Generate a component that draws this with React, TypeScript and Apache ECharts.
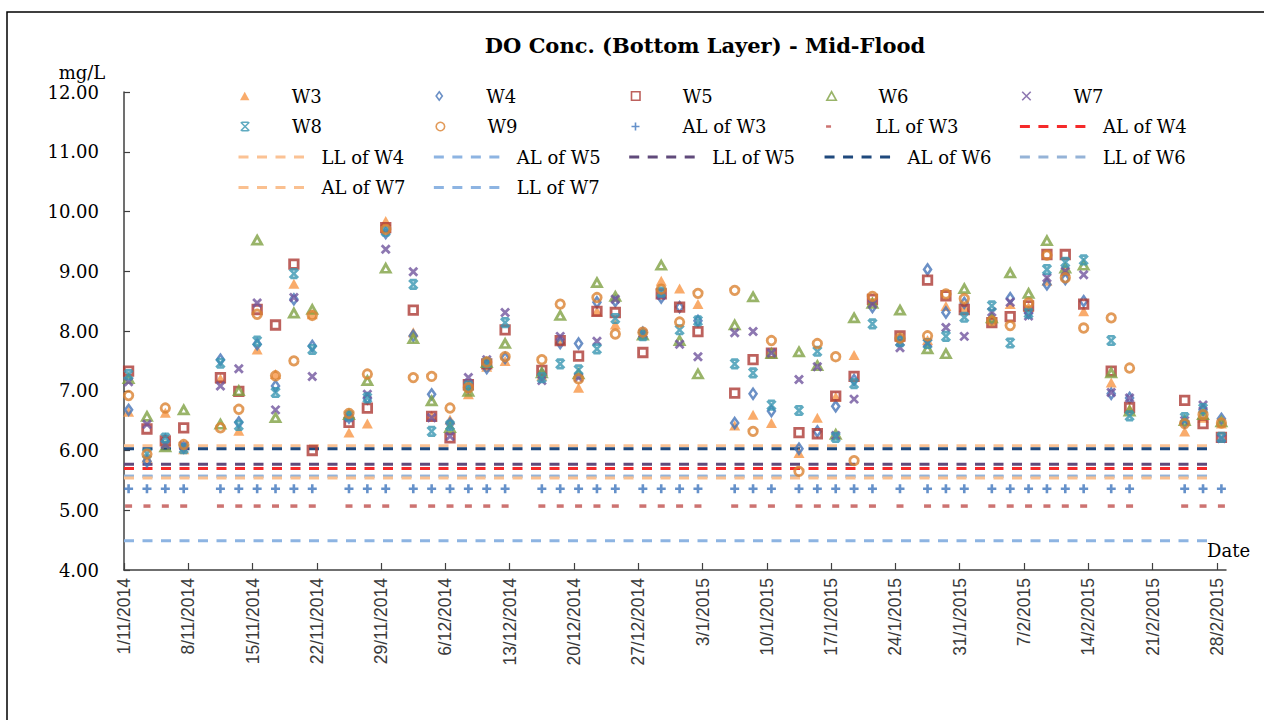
import React, { useEffect, useRef } from 'react';
import * as echarts from 'echarts';

// Sampling days counted from 1/11/2014
const sampleDays = [0, 2, 4, 6, 10, 12, 14, 16, 18, 20, 24, 26, 28, 31, 33, 35, 37, 39, 41, 45, 47, 49, 51, 53, 56, 58, 60, 62, 66, 68, 70, 73, 75, 77, 79, 81, 84, 87, 89, 91, 94, 96, 98, 100, 102, 104, 107, 109, 115, 117, 119];

const w3 = [6.65, 5.88, 6.63, 6.02, 7.2, 6.33, 7.69, 7.28, 8.79, 8.28, 6.3, 6.45, 9.84, 7.98, 6.58, 6.52, 6.94, 7.4, 7.5, 7.25, 7.85, 7.05, 8.33, 8.11, 7.95, 8.84, 8.71, 8.45, 6.42, 6.6, 6.46, 5.96, 6.55, 6.9, 7.6, 8.5, 7.9, 7.85, 8.42, 8.4, 8.2, 8.45, 8.4, 8.84, 9.0, 8.33, 7.14, 6.7, 6.32, 6.55, 6.45];
const w4 = [6.68, 5.82, 6.18, 6.05, 7.52, 6.47, 7.78, 7.08, 8.53, 7.75, 6.55, 6.87, 9.64, 7.92, 6.94, 6.45, 7.05, 7.38, 7.55, 7.28, 7.8, 7.79, 8.48, 8.5, 7.97, 8.56, 8.4, 8.17, 6.46, 6.95, 6.66, 6.03, 6.32, 6.74, 7.18, 8.4, 7.85, 9.03, 8.31, 8.47, 8.2, 8.55, 8.3, 8.78, 8.87, 8.5, 6.95, 6.88, 6.47, 6.68, 6.53];
const w5 = [7.33, 6.36, 6.16, 6.38, 7.22, 6.99, 8.36, 8.1, 9.12, 6.0, 6.47, 6.71, 9.73, 8.35, 6.57, 6.21, 7.1, 7.45, 8.02, 7.34, 7.84, 7.58, 8.33, 8.31, 7.64, 8.62, 8.4, 7.99, 6.96, 7.52, 7.63, 6.3, 6.28, 6.91, 7.24, 8.53, 7.92, 8.85, 8.59, 8.36, 8.14, 8.24, 8.42, 9.28, 9.28, 8.45, 7.33, 6.72, 6.84, 6.45, 6.22];
const w6 = [7.2, 6.57, 6.06, 6.68, 6.44, 7.0, 9.52, 6.55, 8.3, 8.36, 6.6, 7.17, 9.05, 7.87, 6.83, 6.38, 6.99, 7.47, 7.79, 7.3, 8.26, 7.28, 8.81, 8.58, 7.93, 9.1, 7.84, 7.28, 8.1, 8.57, 7.62, 7.65, 7.42, 6.27, 8.22, 8.46, 8.35, 7.7, 7.62, 8.71, 8.22, 8.97, 8.63, 9.51, 9.05, 9.1, 7.3, 6.66, 6.5, 6.6, 6.48];
const w7 = [7.15, 6.44, 6.1, 6.08, 7.08, 7.37, 8.47, 6.68, 8.56, 7.24, 6.55, 6.94, 9.37, 8.99, 6.55, 6.24, 7.22, 7.52, 8.31, 7.17, 7.91, 7.22, 7.83, 8.53, 7.96, 8.6, 7.78, 7.57, 7.97, 7.99, 7.63, 7.19, 7.4, 6.25, 6.86, 8.45, 7.72, 7.8, 8.06, 7.91, 8.32, 8.48, 8.25, 8.89, 9.0, 8.94, 6.97, 6.88, 6.5, 6.76, 6.2];
const w8 = [7.27, 5.95, 6.21, 6.03, 7.46, 6.42, 7.83, 6.97, 8.96, 7.69, 6.58, 6.88, 9.67, 8.78, 6.32, 6.42, 7.08, 7.47, 8.14, 7.22, 7.45, 7.35, 7.7, 8.21, 7.92, 8.65, 8.02, 8.17, 7.45, 7.3, 6.76, 6.67, 7.66, 6.22, 7.12, 8.12, 7.82, 7.79, 7.91, 8.23, 8.42, 7.8, 8.3, 9.03, 9.15, 9.19, 7.84, 6.58, 6.55, 6.7, 6.22];
const w9 = [6.92, 5.94, 6.71, 6.1, 6.38, 6.69, 8.28, 7.25, 7.5, 8.26, 6.62, 7.28, 9.7, 7.22, 7.24, 6.71, 7.05, 7.48, 7.57, 7.52, 8.45, 7.2, 8.56, 7.95, 7.98, 8.7, 8.15, 8.63, 8.68, 6.32, 7.84, 5.65, 7.79, 7.57, 5.83, 8.58, 7.88, 7.92, 8.62, 8.54, 8.17, 8.09, 8.47, 9.27, 8.89, 8.05, 8.22, 7.38, 6.45, 6.6, 6.46];

// Action / limit levels (mg/L)
const alW3 = 5.36;
const llW3 = 5.07;
const alW4 = 5.7;
const llW4 = 6.08;
const alW5 = 5.57;
const llW5 = 5.77;
const alW6 = 6.03;
const llW6 = 5.57;
const alW7 = 5.54;
const llW7 = 4.49;
const limitSpan = [0, 118.5];

const xTickDays = [0, 7, 14, 21, 28, 35, 42, 49, 56, 63, 70, 77, 84, 91, 98, 105, 112, 119];
const yMin = 4;
const yMax = 12;

const SERIF = 'DejaVu Serif';

const SYM = {
  tri: 'path://M5,0L10,9L0,9Z',
  diamond: 'path://M4,0L8,5.5L4,11L0,5.5Z',
  square: 'path://M0,0H10V10H0Z',
  cross: 'path://M0,0L10,10M10,0L0,10',
  star: 'path://M1,0H9M1,10H9M0,0L10,10M10,0L0,10',
  plus: 'path://M5,0V10M0,5H10',
  dash: 'path://M0,0H6V3H0Z',
};

const fmtDate = (v: number) => {
  const d = new Date(2014, 10, 1 + Math.round(v));
  return `${d.getDate()}/${d.getMonth() + 1}/${d.getFullYear()}`;
};

const pts = (vals: number[]) => sampleDays.map((d, i) => [d + 0.5, vals[i]]);
const flat = (v: number) => sampleDays.map((d) => [d + 0.5, v]);
const lineData = (v: number) => limitSpan.map((d) => [d, v]);

export default function App() {
  const ref = useRef<HTMLDivElement>(null);
  useEffect(() => {
    if (!ref.current) return;
    const chart = echarts.init(ref.current, undefined, { renderer: 'svg' });

    const hollow = (c: string, w = 2.8) => ({ color: 'transparent', borderColor: c, borderWidth: w });

    const scatter = [
      { name: 'W3', data: pts(w3), symbol: SYM.tri, symbolSize: [11, 10], itemStyle: { color: '#F79646', borderWidth: 0 } },
      { name: 'W4', data: pts(w4), symbol: SYM.diamond, symbolSize: [7, 10], itemStyle: hollow('#4674B8', 2.6) },
      { name: 'W5', data: pts(w5), symbol: SYM.square, symbolSize: [8.5, 8.5], itemStyle: hollow('#AD3935') },
      { name: 'W6', data: pts(w6), symbol: SYM.tri, symbolSize: [9, 8], itemStyle: hollow('#7FA143') },
      { name: 'W7', data: pts(w7), symbol: SYM.cross, symbolSize: [8, 8], itemStyle: hollow('#71559D') },
      { name: 'W8', data: pts(w8), symbol: SYM.star, symbolSize: [8.5, 8.5], itemStyle: hollow('#3896B1', 2.6) },
      { name: 'W9', data: pts(w9), symbol: 'circle', symbolSize: 8.5, itemStyle: hollow('#DB8231') },
      { name: 'AL of W3', data: flat(alW3), symbol: SYM.plus, symbolSize: [9, 9], itemStyle: hollow('#3F75BD', 2.6) },
      { name: 'LL of W3', data: flat(llW3), symbol: SYM.dash, symbolSize: [7, 3.5], itemStyle: { color: '#C0504D', borderWidth: 0 } },
    ].map((s) => ({ type: 'scatter', z: 3, ...s }));

    const lines = [
      { name: 'AL of W4', v: alW4, c: '#F52A2A' },
      { name: 'LL of W4', v: llW4, c: '#FBC294' },
      { name: 'AL of W5', v: alW5, c: '#8DB4E2' },
      { name: 'LL of W5', v: llW5, c: '#604A7B' },
      { name: 'AL of W6', v: alW6, c: '#1F497D' },
      { name: 'LL of W6', v: llW6, c: '#95B3D7' },
      { name: 'AL of W7', v: alW7, c: '#FAC090' },
      { name: 'LL of W7', v: llW7, c: '#8DB4E2' },
    ].map((l) => ({
      type: 'line',
      name: l.name,
      data: lineData(l.v),
      symbol: 'none',
      z: 2,
      itemStyle: { color: l.c },
      lineStyle: { color: l.c, width: 3, type: [10, 8.5] },
    }));

    const legendItems: [string, number, number, string][] = [
      ['W3', 0, 0, 's'], ['W4', 1, 0, 's'], ['W5', 2, 0, 's'], ['W6', 3, 0, 's'], ['W7', 4, 0, 's'],
      ['W8', 0, 1, 's'], ['W9', 1, 1, 's'], ['AL of W3', 2, 1, 'p'], ['LL of W3', 3, 1, 'd'], ['AL of W4', 4, 1, 'l'],
      ['LL of W4', 0, 2, 'l'], ['AL of W5', 1, 2, 'l'], ['LL of W5', 2, 2, 'l'], ['AL of W6', 3, 2, 'l'], ['LL of W6', 4, 2, 'l'],
      ['AL of W7', 0, 3, 'l'], ['LL of W7', 1, 3, 'l'],
    ];
    const rowCy = [96, 126.5, 157, 187.5];
    const legends = legendItems.map(([name, col, row, kind]) => {
      const isLine = kind === 'l';
      const ih = kind === 'd' ? 2.5 : kind === 'p' ? 8 : isLine ? 10 : 8.5;
      return {
        data: [name],
        left: 237 + col * 195.35 + (isLine ? 0 : 3),
        top: rowCy[row] - 9,
        padding: 0,
        itemGap: 0,
        itemWidth: 66,
        itemHeight: ih,
        selectedMode: false,
        textStyle: { fontFamily: SERIF, fontSize: 18, color: '#000', padding: [0, 0, 0, isLine ? 12 : 9] },
        itemStyle: isLine ? { opacity: 0 } : kind === 'd' || name === 'W3' ? { borderWidth: 0 } : { borderWidth: 1.6 },
        lineStyle: isLine ? { width: 3 } : undefined,
      };
    });

    chart.setOption({
      animation: false,
      backgroundColor: '#fff',
      title: {
        text: 'DO Conc. (Bottom Layer) - Mid-Flood',
        left: 705,
        top: 35,
        padding: 0,
        textAlign: 'center',
        textStyle: { fontFamily: SERIF, fontSize: 21, fontWeight: 'bold', color: '#000' },
      },
      legend: legends,
      grid: { left: 124, top: 92, width: 1102, height: 478, containLabel: false },
      xAxis: {
        type: 'value',
        min: 0,
        max: 120,
        interval: 7,
        axisLine: { show: true, lineStyle: { color: '#404040', width: 1.5 } },
        axisTick: { show: true, inside: true, length: 7, customValues: xTickDays, lineStyle: { color: '#404040', width: 1.2 } },
        axisLabel: {
          customValues: xTickDays,
          rotate: 90,
          margin: 8,
          formatter: fmtDate,
          fontFamily: 'Liberation Sans',
          fontSize: 17.5,
          color: '#3a3a3a',
        },
        splitLine: { show: false },
      },
      yAxis: {
        type: 'value',
        min: yMin,
        max: yMax,
        interval: 1,
        axisLine: { show: true, lineStyle: { color: '#404040', width: 1.5 } },
        axisTick: { show: true, inside: true, length: 6, lineStyle: { color: '#404040', width: 1.2 } },
        axisLabel: {
          formatter: (v: number) => v.toFixed(2),
          margin: 25,
          fontFamily: SERIF,
          fontSize: 18,
          color: '#000',
        },
        splitLine: { show: false },
      },
      graphic: [
        { type: 'rect', silent: true, z: -10, shape: { x: 7, y: 12, width: 1400, height: 900 }, style: { fill: 'none', stroke: '#000', lineWidth: 1.5 } },
        { type: 'text', silent: true, x: 82, y: 72, style: { text: 'mg/L', fontFamily: SERIF, fontSize: 18, fill: '#000', align: 'center', verticalAlign: 'middle' } },
        { type: 'text', silent: true, x: 1207, y: 550, style: { text: 'Date', fontFamily: SERIF, fontSize: 18, fill: '#000', align: 'left', verticalAlign: 'middle' } },
      ],
      series: [...scatter, ...lines],
    });
    return () => chart.dispose();
  }, []);
  return <div ref={ref} style={{ position: 'absolute', left: 0, top: 0, width: 1264, height: 720 }} />;
}
